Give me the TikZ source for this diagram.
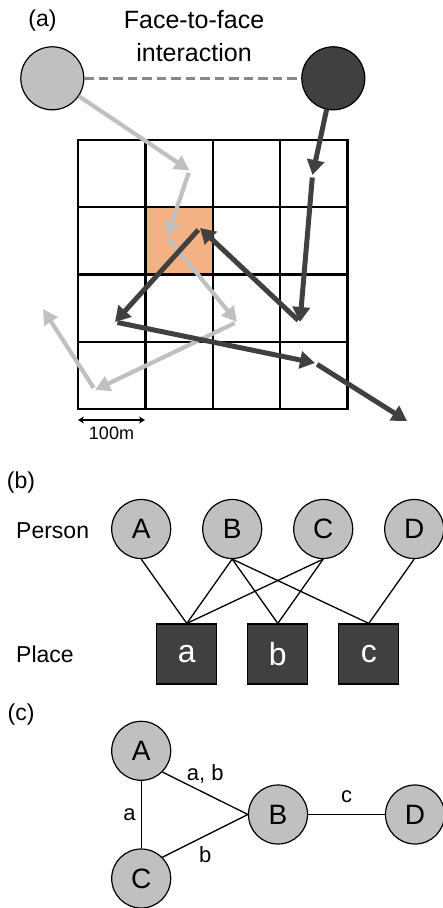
\documentclass[tikz,border=0pt]{standalone}
\usepackage{fontspec}
\setmainfont{Liberation Sans}
\usepackage{tikz}
\usetikzlibrary{arrows.meta,positioning,shapes}

\definecolor{lightfig}{HTML}{C0C0C0}
\definecolor{darkfig}{HTML}{404040}
\definecolor{cellorange}{HTML}{F4B183}
\definecolor{dashgray}{HTML}{888888}

\begin{document}
\begin{tikzpicture}[x=1pt, y=-1pt, node distance=91pt,
    walker/.style={circle, minimum size=63pt, inner sep=0pt, draw, line width=1.2pt},
    person/.style={circle, minimum size=59pt, inner sep=0pt, draw, line width=1.2pt, fill=lightfig, font=\fontsize{28}{30}\selectfont},
    place/.style={rectangle, minimum size=60pt, inner sep=0pt, draw, line width=1.2pt, fill=darkfig, text=white, font=\fontsize{32}{34}\selectfont},
    caption/.style={inner sep=0pt, font=\fontsize{23}{26}\selectfont},
    elabel/.style={inner sep=1pt, font=\fontsize{22}{24}\selectfont},
    tie/.style={line width=1.3pt},
    gridline/.style={line width=2.3pt, line cap=rect},
    lightmove/.style={draw=lightfig, fill=lightfig, line width=4.2pt, shorten <=2.5pt, -{Triangle[length=15pt,width=15.5pt]}},
    darkmove/.style={draw=darkfig, fill=darkfig, line width=5pt, shorten <=2.5pt, -{Triangle[length=15pt,width=17pt]}},
    scalebar/.style={line width=1.5pt, {Stealth[length=6pt,width=7pt]}-{Stealth[length=6pt,width=7pt]}}]
    \useasboundingbox (0,0) rectangle (443,908);

    % (a)
    \node[caption] (la) at (42.5,21) {(a)};
    \node[caption, align=center, font=\fontsize{25}{33}\selectfont] (title) at (194,36.5) {Face-to-face\\interaction};

    \fill[cellorange] (145.4,207.25) rectangle (212.8,274.5);
    \foreach \i in {0,...,4} {
        \draw[gridline] ({78+67.4*\i},140) -- ({78+67.4*\i},409);
        \draw[gridline] (78,{140+67.25*\i}) -- (347.6,{140+67.25*\i});
    }

    \node[walker, fill=lightfig] (p1) at (52.3,78.3) {};
    \node[walker, fill=darkfig]  (p2) at (333.3,78.3) {};
    \draw[dashgray, line width=3pt, dash pattern=on 9.5pt off 5pt] (p1) -- (p2);

    \coordinate (l1) at (189.5,170.5);
    \coordinate (l2) at (167,237);
    \coordinate (l3) at (237,322);
    \coordinate (l4) at (95,390);
    \coordinate (l5) at (43,309);
    \coordinate (d1) at (312.5,175);
    \coordinate (d2) at (300,322);
    \coordinate (d3) at (200,228);
    \coordinate (d4) at (115,322);
    \coordinate (d5) at (315,363);
    \coordinate (d6) at (407,421);

    \draw[lightmove, shorten <=0pt] (p1) -- (l1);
    \foreach \a/\b in {l1/l2, l2/l3, l3/l4, l4/l5}
        \draw[lightmove] (\a) -- (\b);
    \draw[darkmove, shorten <=0pt] (p2) -- (d1);
    \foreach \a/\b in {d1/d2, d2/d3, d3/d4, d4/d5, d5/d6}
        \draw[darkmove] (\a) -- (\b);

    \coordinate (s1) at (78,420);
    \coordinate (s2) at (145,420);
    \draw[scalebar] (s1) -- (s2) node[midway, below=6pt, inner sep=0pt, font=\fontsize{18}{20}\selectfont] (scale) {100m};

    % (b)
    \node[caption] (lb) at (21,482.5) {(b)};
    \node[caption, anchor=west] (person) at (16,531) {Person};
    \node[caption, anchor=west] (place) at (16,654.7) {Place};

    \node[person] (pA) at (141.2,529) {A};
    \node[person] (pB) [right of=pA] {B};
    \node[person] (pC) [right of=pB] {C};
    \node[person] (pD) [right of=pC] {D};

    \node[place] (sa) at (186.8,654) {a};
    \node[place] (sb) [right of=sa] {b};
    \node[place] (sc) [right of=sb] {c};

    \path[tie] (pA.south) edge (sa.north)
          (pB.south) edge (sa.north)
          (pB.south) edge (sb.north)
          (pB.south) edge (sc.north)
          (pC.south) edge (sa.north)
          (pC.south) edge (sb.north)
          (pD.south) edge (sc.north);

    % (c)
    \node[caption] (lc) at (21,715) {(c)};
    \node[person] (nA) at (141.2,750.8) {A};
    \node[person] (nC) at (141.2,878.5) {C};
    \node[person] (nB) at (278,814.5) {B};
    \node[person] (nD) [right of=nB, node distance=137pt] {D};

    \path[tie] (nA.south) edge node[elabel, left=4pt] (ea) {a} (nC.north)
          (nA.south east) edge node[elabel, above=8pt] (eab) {a, b} (nB.west)
          (nC.north east) edge node[elabel, below=9pt] (eb) {b} (nB.west)
          (nB.east) edge node[elabel, above=10pt] (ec) {c} (nD.west);
\end{tikzpicture}
\end{document}
